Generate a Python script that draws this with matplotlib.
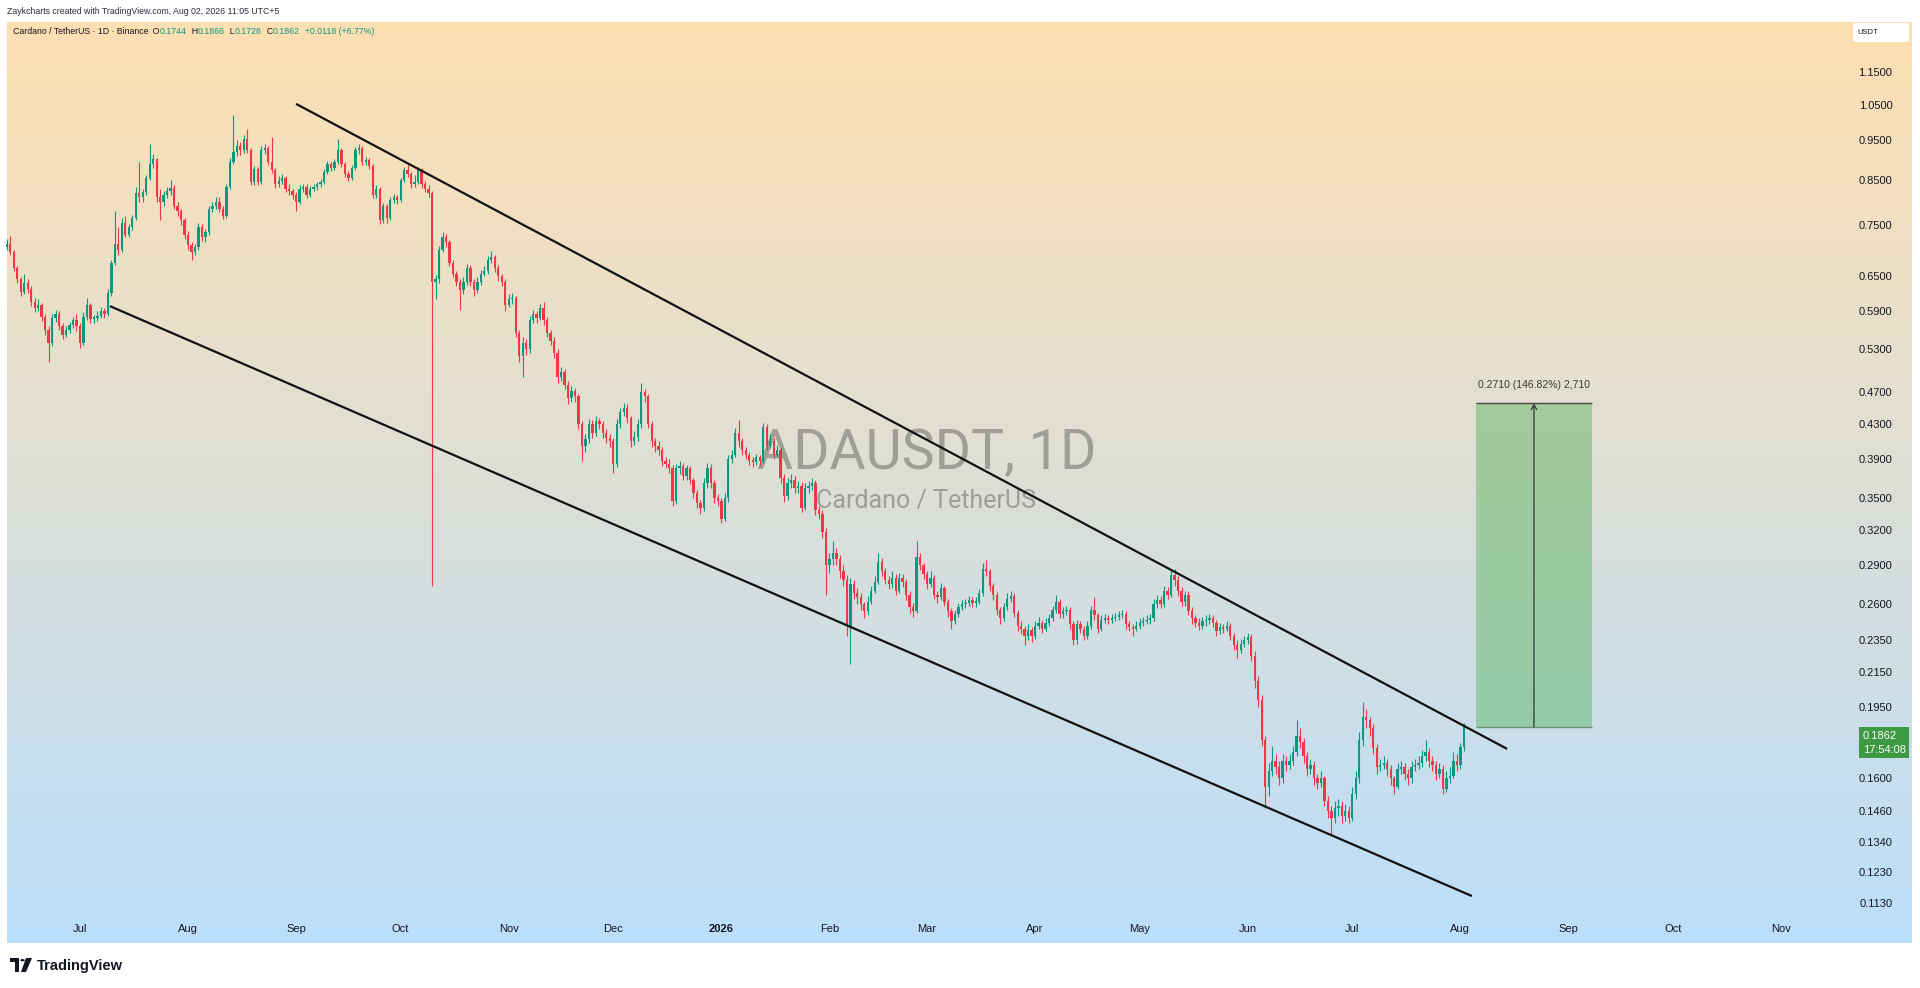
import numpy as np
import pandas as pd
import matplotlib
matplotlib.use("Agg")
import matplotlib.pyplot as plt
import matplotlib.dates as mdates
from matplotlib.patches import Rectangle, FancyBboxPatch, Polygon, Circle
from matplotlib.ticker import NullLocator

W, H = 1920, 988

# ---- daily ADA/USDT candles (open = previous close) ----
start_date = "2025-06-10"
first_open = 0.705
closes = [
    .712, .695, .665, .645, .622, .637, .628, .605, .595, .600,
    .580, .560, .540, .578, .585, .565, .552, .560, .567, .575,
    .565, .540, .580, .600, .577, .578, .582, .590, .585, .620,
    .675, .712, .700, .755, .730, .745, .765, .820, .810, .822,
    .855, .890, .902, .810, .800, .815, .825, .832, .792, .780,
    .760, .730, .710, .695, .705, .745, .725, .735, .785, .790,
    .800, .785, .770, .835, .895, .920, .935, .925, .955, .925,
    .845, .878, .845, .925, .930, .895, .875, .840, .848, .855,
    .830, .825, .815, .800, .830, .835, .815, .830, .835, .840,
    .845, .870, .890, .880, .895, .925, .890, .865, .855, .880,
    .925, .930, .895, .900, .885, .815, .830, .760, .790, .765,
    .805, .810, .805, .850, .875, .865, .840, .845, .875, .840,
    .830, .820, .640, .645, .700, .725, .715, .675, .655, .640,
    .625, .640, .665, .640, .625, .640, .655, .660, .680, .685,
    .665, .650, .640, .600, .610, .612, .555, .520, .540, .530,
    .575, .585, .578, .595, .575, .555, .543, .525, .490, .498,
    .480, .462, .472, .465, .430, .405, .412, .430, .420, .434,
    .430, .420, .414, .410, .385, .430, .445, .450, .437, .410,
    .415, .430, .470, .465, .430, .410, .405, .400, .388, .385,
    .380, .347, .380, .383, .372, .380, .368, .355, .345, .340,
    .365, .380, .365, .350, .347, .330, .350, .390, .395, .420,
    .410, .400, .395, .388, .387, .392, .388, .427, .405, .410,
    .395, .400, .370, .352, .365, .368, .360, .362, .340, .360,
    .362, .365, .338, .335, .318, .290, .295, .300, .295, .285,
    .278, .245, .275, .268, .265, .260, .255, .262, .270, .277,
    .293, .285, .278, .275, .280, .270, .280, .277, .267, .258,
    .255, .297, .290, .283, .275, .280, .267, .265, .272, .262,
    .255, .248, .253, .258, .260, .261, .263, .261, .262, .268,
    .287, .285, .274, .267, .256, .250, .258, .264, .266, .254,
    .245, .243, .238, .242, .238, .245, .247, .243, .247, .250,
    .256, .262, .253, .255, .256, .246, .235, .246, .243, .238,
    .245, .256, .252, .243, .249, .250, .249, .250, .251, .252,
    .253, .246, .244, .243, .245, .247, .248, .249, .250, .260,
    .263, .260, .270, .267, .282, .278, .270, .262, .267, .255,
    .250, .247, .245, .248, .249, .250, .247, .241, .244, .243,
    .245, .238, .232, .229, .233, .235, .237, .225, .210, .199,
    .178, .156, .163, .168, .165, .160, .168, .166, .168, .172,
    .180, .177, .170, .164, .166, .160, .158, .160, .150, .146,
    .143, .147, .148, .144, .146, .143, .153, .160, .178, .190,
    .188, .184, .174, .165, .166, .167, .164, .160, .156, .164,
    .165, .162, .160, .165, .166, .167, .170, .172, .168, .166,
    .162, .164, .155, .160, .161, .168, .166, .1744, .1862,
]
highs = [
    .722, .728, .700, .668, .648, .655, .645, .632, .612, .610,
    .604, .585, .566, .585, .592, .590, .570, .566, .572, .580,
    .585, .570, .588, .612, .604, .584, .590, .596, .595, .628,
    .680, .780, .745, .765, .770, .752, .772, .835, .895, .830,
    .862, .940, .915, .905, .830, .825, .835, .850, .838, .800,
    .785, .765, .738, .716, .712, .755, .752, .742, .792, .800,
    .812, .810, .792, .842, .905, 1.02, .950, .945, .965, .980,
    .930, .885, .882, .935, .940, .935, .960, .880, .860, .865,
    .860, .840, .830, .822, .838, .842, .840, .836, .842, .846,
    .852, .878, .897, .895, .902, .953, .930, .895, .872, .888,
    .932, .940, .935, .908, .905, .890, .838, .835, .798, .795,
    .812, .818, .815, .856, .882, .890, .870, .862, .882, .880,
    .848, .838, .825, .652, .708, .735, .732, .720, .680, .660,
    .645, .648, .672, .670, .645, .648, .662, .668, .688, .698,
    .690, .670, .655, .645, .618, .620, .615, .560, .548, .545,
    .582, .592, .590, .602, .605, .580, .560, .548, .530, .505,
    .502, .485, .478, .476, .468, .434, .418, .436, .435, .440,
    .438, .434, .424, .418, .414, .436, .450, .456, .455, .440,
    .422, .436, .482, .475, .468, .434, .414, .410, .404, .392,
    .390, .384, .385, .388, .386, .384, .383, .370, .358, .348,
    .370, .386, .385, .368, .354, .350, .355, .395, .400, .426,
    .435, .414, .404, .398, .392, .396, .395, .432, .430, .418,
    .414, .406, .404, .374, .370, .374, .372, .367, .366, .365,
    .367, .370, .368, .342, .338, .322, .300, .310, .304, .298,
    .290, .282, .280, .278, .272, .268, .262, .266, .274, .281,
    .300, .296, .288, .281, .285, .283, .284, .283, .279, .270,
    .261, .310, .300, .292, .285, .285, .282, .270, .276, .274,
    .264, .257, .256, .261, .263, .264, .266, .265, .265, .271,
    .292, .294, .287, .276, .269, .258, .261, .268, .270, .268,
    .256, .248, .245, .246, .244, .248, .251, .249, .250, .253,
    .259, .267, .264, .258, .259, .258, .248, .249, .248, .245,
    .248, .259, .265, .254, .252, .253, .252, .253, .254, .255,
    .256, .255, .248, .246, .248, .250, .251, .252, .253, .264,
    .267, .266, .274, .273, .287, .287, .281, .273, .270, .270,
    .258, .252, .250, .251, .252, .253, .252, .249, .247, .246,
    .248, .247, .240, .235, .236, .238, .240, .239, .228, .213,
    .202, .180, .167, .175, .171, .168, .171, .170, .171, .175,
    .188, .184, .179, .172, .169, .168, .162, .163, .161, .152,
    .148, .150, .151, .150, .149, .148, .156, .163, .182, .198,
    .194, .190, .186, .176, .169, .170, .169, .166, .161, .167,
    .168, .167, .164, .168, .169, .170, .173, .178, .174, .170,
    .168, .167, .166, .163, .165, .172, .171, .1765, .1866,
]
lows = [
    .700, .690, .660, .638, .616, .618, .620, .598, .588, .590,
    .574, .552, .512, .535, .572, .560, .545, .548, .555, .562,
    .558, .532, .536, .575, .570, .570, .574, .578, .578, .582,
    .615, .670, .690, .695, .725, .725, .740, .760, .800, .800,
    .815, .850, .880, .800, .760, .790, .808, .815, .785, .770,
    .750, .722, .700, .680, .690, .700, .718, .715, .730, .778,
    .785, .778, .762, .765, .830, .890, .910, .912, .918, .918,
    .838, .838, .838, .840, .915, .888, .868, .832, .835, .842,
    .822, .815, .806, .780, .795, .822, .808, .810, .825, .828,
    .835, .840, .865, .872, .875, .890, .882, .858, .848, .850,
    .875, .915, .888, .888, .878, .808, .808, .752, .755, .755,
    .760, .798, .796, .800, .845, .858, .832, .835, .840, .832,
    .822, .812, .274, .610, .638, .695, .705, .668, .648, .632,
    .592, .618, .635, .632, .615, .620, .635, .650, .655, .675,
    .658, .642, .632, .590, .596, .602, .548, .512, .490, .522,
    .525, .570, .570, .575, .568, .548, .536, .518, .482, .485,
    .474, .455, .458, .458, .424, .388, .398, .408, .414, .416,
    .424, .414, .408, .404, .375, .382, .426, .440, .432, .404,
    .406, .410, .426, .458, .425, .404, .398, .395, .383, .380,
    .375, .342, .344, .374, .368, .368, .364, .350, .340, .335,
    .337, .360, .360, .345, .342, .326, .328, .346, .386, .392,
    .404, .395, .390, .384, .382, .384, .383, .386, .400, .402,
    .390, .392, .365, .346, .348, .360, .355, .355, .336, .338,
    .355, .358, .334, .330, .313, .267, .284, .290, .290, .280,
    .274, .238, .220, .264, .260, .256, .250, .252, .260, .268,
    .275, .281, .275, .271, .272, .267, .268, .273, .263, .254,
    .251, .254, .286, .279, .271, .273, .264, .261, .263, .259,
    .251, .243, .246, .251, .256, .257, .259, .258, .258, .260,
    .266, .281, .270, .263, .252, .246, .248, .256, .262, .251,
    .241, .239, .232, .235, .234, .236, .243, .240, .241, .245,
    .248, .254, .250, .250, .252, .243, .232, .233, .240, .235,
    .236, .243, .249, .240, .241, .247, .246, .247, .248, .249,
    .250, .243, .241, .238, .241, .243, .245, .246, .246, .248,
    .257, .257, .258, .264, .265, .274, .266, .259, .259, .252,
    .246, .244, .242, .243, .245, .246, .244, .238, .239, .240,
    .241, .235, .229, .224, .227, .231, .233, .222, .206, .195,
    .175, .147, .152, .161, .162, .157, .158, .163, .164, .166,
    .170, .174, .167, .161, .162, .157, .155, .156, .148, .143,
    .137, .141, .144, .141, .142, .141, .142, .151, .158, .175,
    .184, .180, .171, .162, .163, .164, .161, .157, .153, .155,
    .162, .159, .157, .158, .163, .164, .165, .168, .165, .163,
    .159, .160, .153, .154, .158, .160, .163, .164, .1728,
]

# ---- drawings on the chart ----
upper_line_t = ["2025-09-01 00:00", "2026-08-14 10:00"]
upper_line_p = [1.052, 0.1736]
lower_line_t = ["2025-07-09 14:00", "2026-08-04 07:00"]
lower_line_p = [0.598, 0.1151]
box_t = ["2026-08-05 12:00", "2026-09-07 17:00"]
box_p = [0.1846, 0.4556]
box_label = "0.2710 (146.82%) 2,710"

y_ticks = [1.15, 1.05, 0.95, 0.85, 0.75, 0.65, 0.59, 0.53, 0.47, 0.43, 0.39, 0.35,
           0.32, 0.29, 0.26, 0.235, 0.215, 0.195, 0.175, 0.16, 0.146, 0.134, 0.123, 0.113]
month_ticks = ["2025-07-01", "2025-08-01", "2025-09-01", "2025-10-01", "2025-11-01",
               "2025-12-01", "2026-01-01", "2026-02-01", "2026-03-01", "2026-04-01",
               "2026-05-01", "2026-06-01", "2026-07-01", "2026-08-01", "2026-09-01",
               "2026-10-01", "2026-11-01"]
month_labels = ["Jul", "Aug", "Sep", "Oct", "Nov", "Dec", "2026", "Feb", "Mar", "Apr",
                "May", "Jun", "Jul", "Aug", "Sep", "Oct", "Nov"]

UP = "#089981"
DOWN = "#f23645"
TXT = "#131722"

plt.rcParams['font.family'] = ['Liberation Sans', 'DejaVu Sans']


def fx(x):
    return x / W


def fy(y):
    return 1 - y / H


fig = plt.figure(figsize=(W / 100, H / 100), dpi=100, facecolor="white")

# gradient background (orange -> blue)
bg = fig.add_axes([fx(7), fy(943), fx(1912 - 7), (943 - 22) / H])
top = np.array([255, 224, 178]) / 255
bot = np.array([187, 222, 251]) / 255
t = np.linspace(0, 1, 256)[:, None]
grad = top[None, :] * (1 - t) + bot[None, :] * t
bg.imshow(grad[:, None, :], aspect="auto", extent=[0, 1, 0, 1])
bg.set_axis_off()

ax = fig.add_axes([fx(5), fy(918), fx(1848 - 5), (918 - 22) / H])
ax.set_facecolor("none")
for s in ax.spines.values():
    s.set_visible(False)

# candles
dates = pd.date_range(start_date, periods=len(closes), freq="D")
x = mdates.date2num(dates)
c = np.array(closes)
o = np.array([first_open] + closes[:-1])
hi = np.maximum(np.array(highs), np.maximum(o, c))
lo = np.minimum(np.array(lows), np.minimum(o, c))
col = np.where(c >= o, UP, DOWN)
ax.vlines(x, lo, hi, colors=col, lw=0.8, zorder=2)
body_lo = np.minimum(o, c)
body_h = np.maximum(np.abs(c - o), body_lo * 0.004)
ax.bar(x, body_h, bottom=body_lo, width=0.66, color=col, linewidth=0, zorder=3)

# watermark
ax.text(0.5, 0.518, "ADAUSDT, 1D", transform=ax.transAxes, ha="center", va="center",
        fontsize=40, family=["Roboto", "DejaVu Sans"], color=(0.42, 0.42, 0.40),
        alpha=0.55, zorder=1)
ax.text(0.5, 0.465, "Cardano / TetherUS", transform=ax.transAxes, ha="center", va="center",
        fontsize=18, family=["Roboto", "DejaVu Sans"], color=(0.42, 0.42, 0.40),
        alpha=0.55, zorder=1)

# channel lines
ax.plot(mdates.date2num(pd.to_datetime(upper_line_t)), upper_line_p, color="#111111",
        lw=1.6, zorder=4, solid_capstyle="butt")
ax.plot(mdates.date2num(pd.to_datetime(lower_line_t)), lower_line_p, color="#111111",
        lw=1.6, zorder=4, solid_capstyle="butt")

# long position / measure box
bx = mdates.date2num(pd.to_datetime(box_t))
ax.add_patch(Rectangle((bx[0], box_p[0]), bx[1] - bx[0], box_p[1] - box_p[0],
                       facecolor="#4caf50", alpha=0.42, edgecolor="none", zorder=2))
ax.hlines([box_p[1]], bx[0], bx[1], color="#444444", lw=1, zorder=3)
ax.hlines([box_p[0]], bx[0], bx[1], color="#6f8f73", lw=1, zorder=3)
xm = (bx[0] + bx[1]) / 2
ax.annotate("", xy=(xm, box_p[1]), xytext=(xm, box_p[0]),
            arrowprops=dict(arrowstyle="->,head_length=0.35,head_width=0.2",
                            color="#333333", lw=0.9, shrinkA=0, shrinkB=0), zorder=4)
ax.annotate(box_label, xy=(xm, box_p[1]), xytext=(0, 13), textcoords="offset points",
            ha="center", va="center", fontsize=7.5, color="#3a3a3a")

# axes scales and ticks
ax.set_yscale("log")
ax.set_ylim(0.10825, 1.3224)
d0 = mdates.date2num(pd.Timestamp("2025-07-01"))
ax.set_xlim(d0 - 21.51, d0 + 507.2)

ax.yaxis.tick_right()
ax.yaxis.set_minor_locator(NullLocator())
ax.set_yticks(y_ticks)
ax.set_yticklabels([f"{v:.4f}" for v in y_ticks])
ax.tick_params(axis="y", length=0, pad=32, labelsize=8, labelcolor=TXT)
for lab in ax.get_yticklabels():
    lab.set_horizontalalignment("right")

ax.xaxis.set_minor_locator(NullLocator())
ax.set_xticks(mdates.date2num(pd.to_datetime(month_ticks)))
ax.set_xticklabels(month_labels)
ax.tick_params(axis="x", length=0, pad=4, labelsize=8, labelcolor=TXT)
for lab in ax.get_xticklabels():
    if lab.get_text() == "2026":
        lab.set_fontweight("bold")

# USDT box on the price scale
fig.patches.append(FancyBboxPatch((fx(1853), fy(42)), fx(56), 19 / H,
                                  boxstyle="round,pad=0,rounding_size=0.002",
                                  transform=fig.transFigure, facecolor="white",
                                  edgecolor="none", zorder=5))
fig.text(fx(1857), fy(32.5), "USDT", fontsize=5.5, color=TXT, va="center", ha="left",
         zorder=6)

# last price tag (covers most of the 0.1750 label, as on the original)
fig.patches.append(Rectangle((fx(1859), fy(758)), fx(50), 31 / H, transform=fig.transFigure,
                             facecolor="#3d9a42", edgecolor="none", zorder=5))
fig.text(fx(1863), fy(736), "0.1862", fontsize=8, color="white", va="center", ha="left",
         zorder=6)
fig.text(fx(1863), fy(749.5), "17:54:08", fontsize=8, color="white", va="center",
         ha="left", zorder=6)

# header lines
fig.text(fx(7), fy(11), "Zaykcharts created with TradingView.com, Aug 02, 2026 11:05 UTC+5",
         fontsize=6.3, color="#2a2e39", va="center", ha="left")

fig.canvas.draw()
renderer = fig.canvas.get_renderer()
pieces = [("Cardano / TetherUS · 1D · Binance", TXT), ("  O", TXT), ("0.1744", UP),
          ("  H", TXT), ("0.1866", UP), ("  L", TXT), ("0.1728", UP), ("  C", TXT),
          ("0.1862", UP), ("  +0.0118 (+6.77%)", UP)]
xpos = 13
for txt, cl in pieces:
    tt = fig.text(fx(xpos), fy(31), txt, fontsize=6.3, color=cl, va="center", ha="left")
    bb = tt.get_window_extent(renderer=renderer)
    xpos += bb.width

# TradingView logo
lx, ly = 10, 958
logo = [
    Polygon([(fx(lx), fy(ly)), (fx(lx + 9), fy(ly)), (fx(lx + 9), fy(ly + 14)),
             (fx(lx + 5), fy(ly + 14)), (fx(lx + 5), fy(ly + 4)), (fx(lx), fy(ly + 4))],
            closed=True),
    Circle((fx(lx + 12.5), fy(ly + 2.2)), 2.2 / W),
    Polygon([(fx(lx + 16), fy(ly)), (fx(lx + 22), fy(ly)), (fx(lx + 16), fy(ly + 14)),
             (fx(lx + 11), fy(ly + 14))], closed=True),
]
for p in logo:
    p.set_transform(fig.transFigure)
    p.set_facecolor("#131722")
    p.set_edgecolor("none")
    fig.patches.append(p)
fig.text(fx(37), fy(966), "TradingView", fontsize=10.5, fontweight="bold", color="#131722",
         va="center", ha="left")

fig.savefig("out.png", dpi=100, facecolor="white")
